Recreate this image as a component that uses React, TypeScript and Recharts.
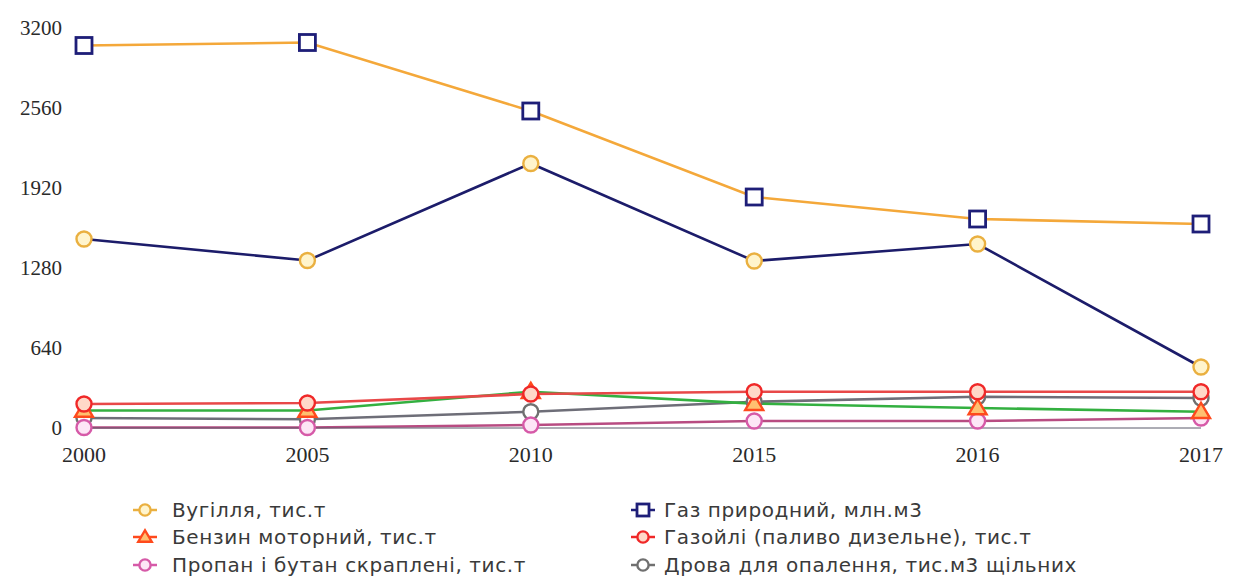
import React from 'react';
import { LineChart, Line, XAxis, YAxis } from 'recharts';

const years = ['2000', '2005', '2010', '2015', '2016', '2017'];
const coal = [1512, 1340, 2116, 1336, 1472, 488];
const gas = [3060, 3084, 2536, 1848, 1672, 1632];
const petrol = [140, 140, 290, 195, 160, 130];
const diesel = [192, 200, 272, 290, 290, 290];
const lpg = [4, 4, 24, 56, 56, 80];
const firewood = [80, 70, 130, 210, 250, 240];
const yTicks = [0, 640, 1280, 1920, 2560, 3200];

const data = years.map((y, i) => ({
    year: y,
    coal: coal[i],
    gas: gas[i],
    petrol: petrol[i],
    diesel: diesel[i],
    lpg: lpg[i],
    firewood: firewood[i],
}));

type Marker = { shape: 'circle' | 'square' | 'triangle'; stroke: string; fill: string };

const series: { key: string; name: string; line: string; marker: Marker }[] = [
    { key: 'firewood', name: 'Дрова для опалення, тис.м3 щільних', line: '#6e6e78', marker: { shape: 'circle', stroke: '#707070', fill: '#ffffff' } },
    { key: 'lpg', name: 'Пропан і бутан скраплені, тис.т', line: '#b84c82', marker: { shape: 'circle', stroke: '#d65aa8', fill: '#fde6f6' } },
    { key: 'petrol', name: 'Бензин моторний, тис.т', line: '#33b040', marker: { shape: 'triangle', stroke: '#ff4a1c', fill: '#ffc070' } },
    { key: 'diesel', name: 'Газойлі (паливо дизельне), тис.т', line: '#e84848', marker: { shape: 'circle', stroke: '#f02828', fill: '#ffd8c8' } },
    { key: 'coal', name: 'Вугілля, тис.т', line: '#1c1c6a', marker: { shape: 'circle', stroke: '#eab040', fill: '#fff4cc' } },
    { key: 'gas', name: 'Газ природний, млн.м3', line: '#f4a83a', marker: { shape: 'square', stroke: '#1e1e78', fill: '#ffffff' } },
];

// legend order: two columns, three rows
const legendOrder = ['coal', 'gas', 'petrol', 'diesel', 'lpg', 'firewood'];

function MarkerShape({ m, cx, cy, s = 1 }: { m: Marker; cx: number; cy: number; s?: number }) {
    if (m.shape === 'square') {
        const h = 8 * s;
        return <rect x={cx - h} y={cy - h} width={h * 2} height={h * 2} fill={m.fill} stroke={m.stroke} strokeWidth={2.8} />;
    }
    if (m.shape === 'triangle') {
        const h = 9 * s;
        return (
            <polygon
                points={`${cx},${cy - h} ${cx + h},${cy + h * 0.7} ${cx - h},${cy + h * 0.7}`}
                fill={m.fill}
                stroke={m.stroke}
                strokeWidth={2.4}
            />
        );
    }
    return <circle cx={cx} cy={cy} r={7.5 * s} fill={m.fill} stroke={m.stroke} strokeWidth={2.4} />;
}

const makeDot = (m: Marker) => (props: any) => {
    const { cx, cy, index } = props;
    if (cx == null || cy == null) return <g key={index} />;
    return (
        <g key={index}>
            <MarkerShape m={m} cx={cx} cy={cy} />
        </g>
    );
};

function LegendBlock() {
    return (
        <div
            style={{
                position: 'absolute',
                left: 124,
                top: 488,
                display: 'grid',
                gridTemplateColumns: '498px 560px',
                fontFamily: 'DejaVu Sans, sans-serif',
                fontSize: 20,
                letterSpacing: 0.6,
                color: '#3a3a3a',
            }}
        >
            {legendOrder.map((k, i) => {
                const s = series.find((x) => x.key === k)!;
                return (
                    <div key={k} style={{ display: 'flex', alignItems: 'center', height: 27.5, whiteSpace: 'nowrap' }}>
                        <svg width={26} height={20} style={{ marginRight: i % 2 ? 8 : 14 }}>
                            <line x1={1} y1={10} x2={25} y2={10} stroke={s.marker.stroke} strokeWidth={2.5} />
                            <MarkerShape m={s.marker} cx={13} cy={10} s={0.75} />
                        </svg>
                        <span>{s.name}</span>
                    </div>
                );
            })}
        </div>
    );
}

export default function App() {
    return (
        <div style={{ position: 'relative', width: 1231, height: 569, background: '#fff' }}>
            <LineChart width={1231} height={569} data={data} margin={{ top: 20, right: 38, left: 0, bottom: 119 }}>
                <XAxis
                    dataKey="year"
                    axisLine={{ stroke: '#5a5a6a', strokeWidth: 1 }}
                    tickLine={false}
                    tickMargin={12}
                    height={30}
                    tick={{ fill: '#2a2a2a', fontSize: 22, fontFamily: 'Liberation Serif, serif' }}
                    interval={0}
                />
                <YAxis
                    domain={[0, 3200]}
                    ticks={yTicks}
                    axisLine={false}
                    tickLine={false}
                    width={76}
                    tickMargin={16}
                    tick={{ fill: '#2a2a2a', fontSize: 21, fontFamily: 'Liberation Serif, serif' }}
                />
                {series.map((s) => (
                    <Line
                        key={s.key}
                        dataKey={s.key}
                        name={s.name}
                        type="linear"
                        stroke={s.line}
                        strokeWidth={2.6}
                        dot={makeDot(s.marker)}
                        activeDot={false}
                        isAnimationActive={false}
                    />
                ))}
            </LineChart>
            <LegendBlock />
        </div>
    );
}
